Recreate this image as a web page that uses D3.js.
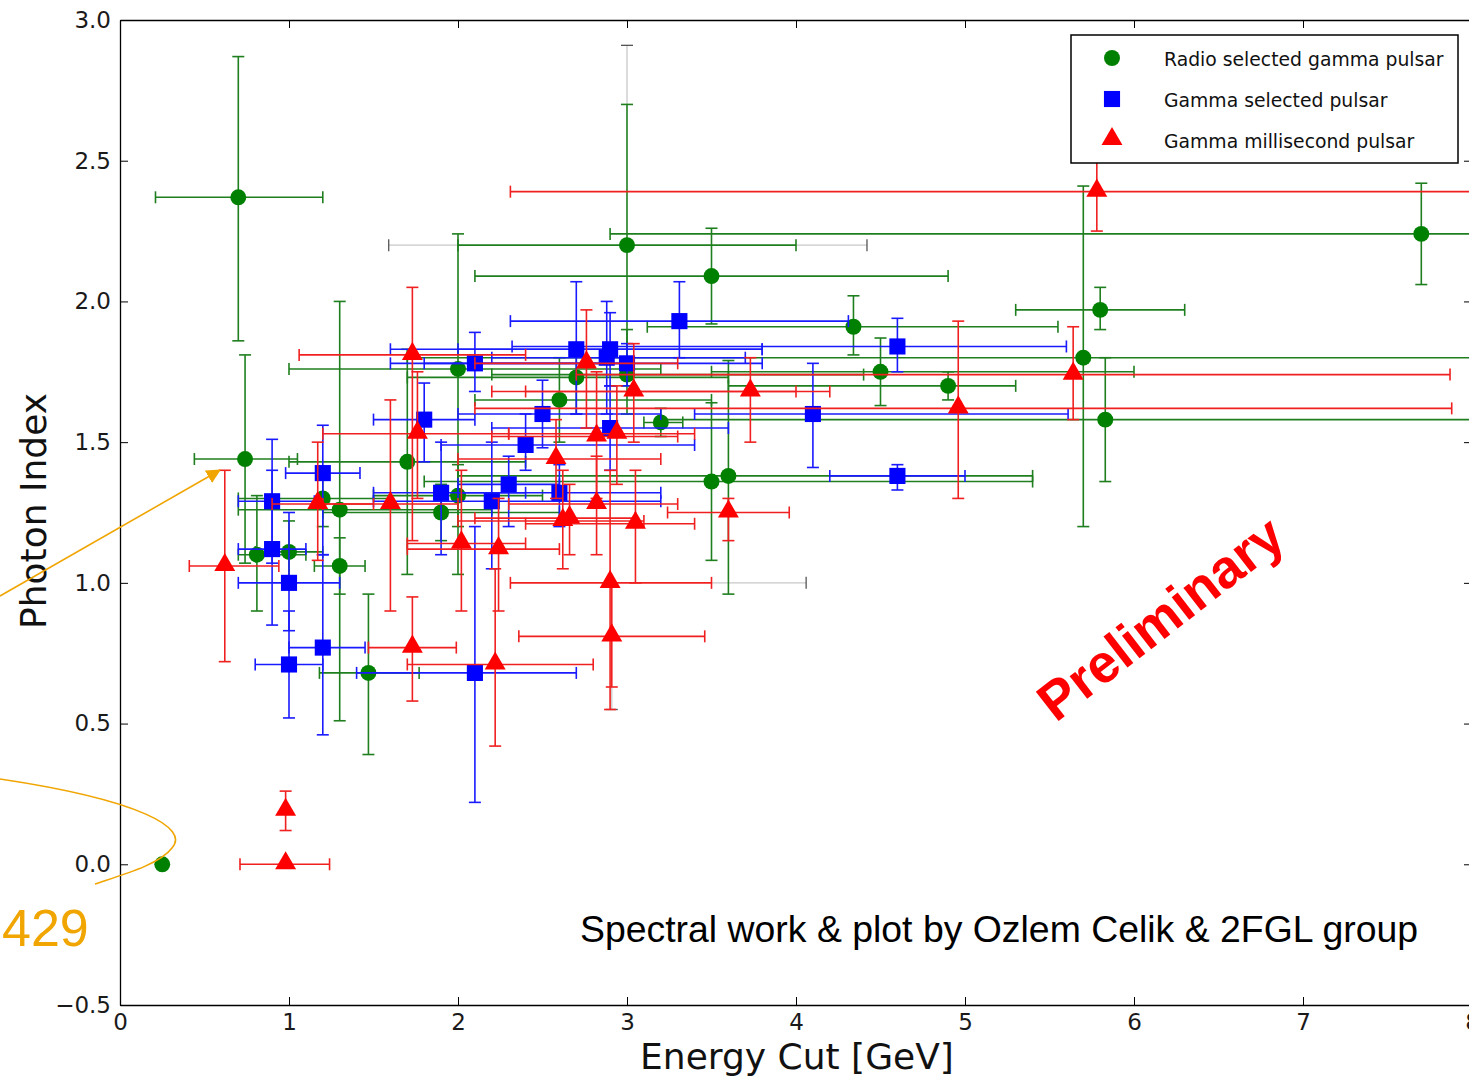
<!DOCTYPE html>
<html><head><meta charset="utf-8">
<script src="https://cdn.jsdelivr.net/npm/d3@7/dist/d3.min.js"></script>
<style>body{margin:0;background:#fff;overflow:hidden}svg{display:block}</style>
</head><body>
<svg id="chart" width="1469" height="1079"></svg>
<script>
// ---------- data ----------
const xTicks = [0,1,2,3,4,5,6,7,8];
const yTicks = [-0.5,0,0.5,1,1.5,2,2.5,3];
const seriesNames = ["Radio selected gamma pulsar","Gamma selected pulsar","Gamma millisecond pulsar"];

// Radio selected gamma pulsars
const greenX   = [0.70,0.74,0.81,1.00,1.20,1.30,1.30,1.47,1.70,1.90,2.00,2.00,2.60,2.70,3.00,3.00,3.20,3.50,3.50,3.60,4.34,4.50,4.90,5.70,5.80,5.83,7.70,0.25];
const greenY   = [2.37,1.44,1.10,1.11,1.30,1.26,1.06,0.68,1.43,1.25,1.76,1.31,1.65,1.73,2.20,1.74,1.57,2.09,1.36,1.38,1.91,1.75,1.70,1.80,1.97,1.58,2.24,0.00];
const greenXLo = [0.21,0.44,0.70,0.80,0.70,0.70,1.15,1.18,1.00,1.20,1.00,1.50,2.10,1.70,2.00,2.20,3.10,2.10,1.80,2.00,3.12,3.50,3.60,1.70,5.30,3.20,2.90,null];
const greenXHi = [1.20,1.05,1.10,1.20,1.60,2.20,1.45,1.77,2.40,2.60,3.20,2.50,3.50,3.60,4.00,4.40,3.33,4.90,5.40,5.40,5.55,6.00,5.30,8.50,6.30,8.50,8.50,null];
const greenYLo = [1.86,1.07,0.90,1.00,1.20,0.51,0.96,0.39,1.03,1.15,1.03,1.20,1.50,1.60,1.70,1.60,1.52,1.92,1.08,0.96,1.81,1.63,1.65,1.20,1.90,1.36,2.06,null];
const greenYHi = [2.87,1.81,1.31,1.22,1.40,2.00,1.16,0.96,1.83,1.35,2.24,1.42,1.80,1.85,2.70,1.90,1.62,2.26,1.64,1.79,2.02,1.87,1.75,2.41,2.05,1.80,2.42,null];

// Gamma selected pulsars
const blueX   = [0.90,0.90,1.00,1.00,1.20,1.20,1.80,1.90,2.10,2.10,2.20,2.30,2.40,2.50,2.60,2.70,2.88,2.90,2.90,3.00,3.31,4.10,4.60,4.60];
const blueY   = [1.29,1.12,1.00,0.71,1.39,0.77,1.58,1.32,1.78,0.68,1.29,1.35,1.49,1.60,1.32,1.83,1.80,1.83,1.55,1.78,1.93,1.60,1.84,1.38];
const blueXLo = [0.70,0.70,0.70,0.80,0.98,1.00,1.50,1.50,1.60,1.40,1.50,2.00,1.90,2.00,2.00,1.60,2.20,2.00,2.20,1.80,2.31,3.40,2.32,4.20];
const blueXHi = [1.15,1.10,1.30,1.20,1.42,1.45,2.10,2.40,3.00,2.70,3.20,2.60,3.40,3.20,3.20,3.80,3.70,3.80,3.60,3.80,4.31,5.61,5.60,5.00];
const blueYLo = [1.07,0.85,0.83,0.52,1.10,0.46,1.43,1.10,1.68,0.22,1.05,1.20,1.40,1.48,1.20,1.60,1.60,1.70,1.40,1.70,1.80,1.41,1.75,1.33];
const blueYHi = [1.51,1.40,1.25,0.90,1.56,1.10,1.71,1.50,1.89,1.20,1.50,1.45,1.60,1.72,1.42,2.07,2.00,1.96,1.70,1.85,2.07,1.78,1.94,1.42];

// Gamma millisecond pulsars
const redX   = [0.62,0.98,0.98,1.17,1.60,1.73,1.76,1.73,2.02,2.22,2.24,2.58,2.62,2.66,2.76,2.82,2.82,2.90,2.91,2.94,3.04,3.05,3.60,3.73,4.96,5.64,5.78];
const redY   = [1.06,0.19,0.00,1.28,1.28,1.81,1.53,0.77,1.14,0.71,1.12,1.44,1.22,1.23,1.78,1.28,1.52,1.00,0.81,1.53,1.68,1.21,1.25,1.68,1.62,1.74,2.39];
const redXLo = [0.41,null,0.71,0.90,1.20,1.06,1.20,1.47,1.70,1.70,1.70,2.00,2.00,2.10,2.10,2.30,2.20,2.31,2.36,2.30,2.20,2.40,3.24,2.40,2.10,2.70,2.31];
const redXHi = [0.94,null,1.24,1.50,2.00,2.40,2.30,1.99,2.40,2.80,2.60,3.20,3.10,3.05,3.30,3.30,3.30,3.50,3.46,3.40,4.00,3.40,3.96,4.20,7.88,7.87,8.50];
const redYLo = [0.72,0.12,null,1.08,0.90,1.15,1.30,0.58,0.90,0.42,0.90,1.30,1.05,1.10,1.55,1.10,1.30,0.55,0.63,1.35,1.50,1.00,1.15,1.50,1.30,1.58,2.25];
const redYHi = [1.40,0.26,null,1.50,1.65,2.05,1.75,0.95,1.40,1.05,1.30,1.58,1.40,1.35,1.97,1.45,1.75,1.40,1.00,1.70,1.85,1.40,1.30,1.80,1.93,1.91,2.62];

// faint (grey) error extensions: [x1, y1, x2, y2, capAtStart]
const greyBars = [[2.00,2.20,1.59,2.20],[4.00,2.20,4.42,2.20],[3.00,2.70,3.00,2.91],[3.50,1.00,4.06,1.00],[2.91,0.63,2.91,0.55]];

// ---------- chart ----------
const svg = d3.select("#chart");
const x = d3.scaleLinear().domain([0,8]).range([120,1472]);
const y = d3.scaleLinear().domain([-0.5,3]).range([1005,20]);
const cap = 6;

svg.append("defs").append("clipPath").attr("id","clip")
  .append("rect").attr("x",120).attr("y",20).attr("width",1352).attr("height",985);

const plot = svg.append("g").attr("clip-path","url(#clip)");

function build(X,Y,XL,XH,YL,YH){
  return X.map((v,i)=>({x:v,y:Y[i],xl:XL[i],xh:XH[i],yl:YL[i],yh:YH[i]}));
}
const series = [
  {name:seriesNames[0], color:"#008000", line:"#1f7f1f", shape:"circle", data:build(greenX,greenY,greenXLo,greenXHi,greenYLo,greenYHi)},
  {name:seriesNames[1], color:"#0000ff", line:"#1a1aff", shape:"square", data:build(blueX,blueY,blueXLo,blueXHi,blueYLo,blueYHi)},
  {name:seriesNames[2], color:"#ff0000", line:"#f02020", shape:"triangle", data:build(redX,redY,redXLo,redXHi,redYLo,redYHi)}
];

// grey extensions (cap drawn at the far end)
const gg = plot.append("g");
greyBars.forEach(b=>{
  gg.append("line").attr("x1",x(b[0])).attr("y1",y(b[1])).attr("x2",x(b[2])).attr("y2",y(b[3]))
    .attr("stroke","#c8c8c8").attr("stroke-width",1.3);
  const ex = x(b[2]), ey = y(b[3]);
  if(b[1]===b[3]) gg.append("line").attr("x1",ex).attr("x2",ex).attr("y1",ey-cap).attr("y2",ey+cap).attr("stroke","#555").attr("stroke-width",1.3);
  else gg.append("line").attr("x1",ex-cap).attr("x2",ex+cap).attr("y1",ey).attr("y2",ey).attr("stroke","#555").attr("stroke-width",1.3);
});

const sym = {
  circle: d3.symbol().type(d3.symbolCircle).size(200)(),
  square: d3.symbol().type(d3.symbolSquare).size(260)(),
  triangle: d3.symbol().type(d3.symbolTriangle).size(190)()
};

series.forEach(s=>{
  const g = plot.append("g");
  s.data.forEach(d=>{
    const px=x(d.x), py=y(d.y);
    const st = sel=>sel.attr("stroke",s.line).attr("stroke-width",1.6);
    if(d.xl!==null){
      st(g.append("line").attr("x1",x(d.xl)).attr("x2",x(d.xh)).attr("y1",py).attr("y2",py));
      st(g.append("line").attr("x1",x(d.xl)).attr("x2",x(d.xl)).attr("y1",py-cap).attr("y2",py+cap));
      st(g.append("line").attr("x1",x(d.xh)).attr("x2",x(d.xh)).attr("y1",py-cap).attr("y2",py+cap));
    }
    if(d.yl!==null){
      st(g.append("line").attr("x1",px).attr("x2",px).attr("y1",y(d.yl)).attr("y2",y(d.yh)));
      st(g.append("line").attr("x1",px-cap).attr("x2",px+cap).attr("y1",y(d.yl)).attr("y2",y(d.yl)));
      st(g.append("line").attr("x1",px-cap).attr("x2",px+cap).attr("y1",y(d.yh)).attr("y2",y(d.yh)));
    }
  });
  g.selectAll("path.m").data(s.data).enter().append("path").attr("class","m")
    .attr("d",sym[s.shape])
    .attr("transform",d=>`translate(${x(d.x)},${y(d.y) + (s.shape==="triangle"?-1:0)})`)
    .attr("fill",s.color);
});

// axes (inward ticks, all four sides)
const fmtY = d=> d3.format(".1f")(d).replace("-","\u2212");
const axStyle = g=>{
  g.selectAll("path.domain").attr("stroke","#000").attr("stroke-width",1.3);
  g.selectAll(".tick line").attr("stroke","#000").attr("stroke-width",1);
  g.selectAll(".tick text").attr("fill","#1a1a1a").style("font-family","DejaVu Sans").style("font-size","23px");
};
svg.append("g").attr("transform","translate(0,1005)")
  .call(d3.axisBottom(x).tickValues(xTicks).tickFormat(d3.format("d")).tickSizeInner(-8).tickSizeOuter(0).tickPadding(9)).call(axStyle);
svg.append("g").attr("transform","translate(0,20)")
  .call(d3.axisTop(x).tickValues(xTicks).tickFormat("").tickSizeInner(-8).tickSizeOuter(0)).call(axStyle);
svg.append("g").attr("transform","translate(120,0)")
  .call(d3.axisLeft(y).tickValues(yTicks).tickFormat(fmtY).tickSizeInner(-8).tickSizeOuter(0).tickPadding(9)).call(axStyle);
svg.append("g").attr("transform","translate(1472,0)")
  .call(d3.axisRight(y).tickValues(yTicks).tickFormat("").tickSizeInner(-8).tickSizeOuter(0)).call(axStyle);

// axis titles
svg.append("text").attr("x",797).attr("y",1069).attr("text-anchor","middle")
  .style("font-family","DejaVu Sans").style("font-size","36px").attr("fill","#111").text("Energy Cut [GeV]");
svg.append("text").attr("transform","translate(46,511) rotate(-90)").attr("text-anchor","middle")
  .style("font-family","DejaVu Sans").style("font-size","36px").attr("fill","#111").text("Photon Index");

// legend
const lg = svg.append("g");
lg.append("rect").attr("x",1071).attr("y",35).attr("width",387).attr("height",128)
  .attr("fill","#fff").attr("stroke","#000").attr("stroke-width",1.5);
series.forEach((s,i)=>{
  const ly = 58 + i*41;
  lg.append("path").attr("d",sym[s.shape]).attr("fill",s.color)
    .attr("transform",`translate(1112,${ly + (s.shape==="triangle"?-1:0)})`);
  lg.append("text").attr("x",1164).attr("y",ly+8).style("font-family","DejaVu Sans").style("font-size","18.8px")
    .attr("fill","#111").text(s.name);
});

// annotations
svg.append("text").attr("x",580).attr("y",942).style("font-family","Liberation Sans, Arial").style("font-size","37.4px")
  .attr("fill","#000").text("Spectral work & plot by Ozlem Celik & 2FGL group");
svg.append("text").attr("transform","translate(1172,633) rotate(-37.8)").attr("text-anchor","middle")
  .style("font-family","Liberation Sans, Arial").style("font-weight","bold").style("font-size","54px")
  .attr("fill","#ff0000").text("Preliminary");

const orange = "#f0a500";
svg.append("defs").append("marker").attr("id","arr").attr("viewBox","0 0 10 10").attr("refX",9).attr("refY",5)
  .attr("markerWidth",9).attr("markerHeight",9).attr("orient","auto-start-reverse")
  .append("path").attr("d","M0,0 L10,5 L0,10 Z").attr("fill",orange);
svg.append("line").attr("x1",0).attr("y1",596).attr("x2",x(0.59)).attr("y2",y(1.40))
  .attr("stroke",orange).attr("stroke-width",1.6).attr("marker-end","url(#arr)");
svg.append("path").attr("d","M0,779 C140,800 190,828 172,848 C160,864 125,874 95,884")
  .attr("fill","none").attr("stroke",orange).attr("stroke-width",1.6);
svg.append("text").attr("x",2).attr("y",946).style("font-family","Liberation Sans, Arial").style("font-size","52px")
  .attr("fill",orange).text("429");
</script>
</body></html>
